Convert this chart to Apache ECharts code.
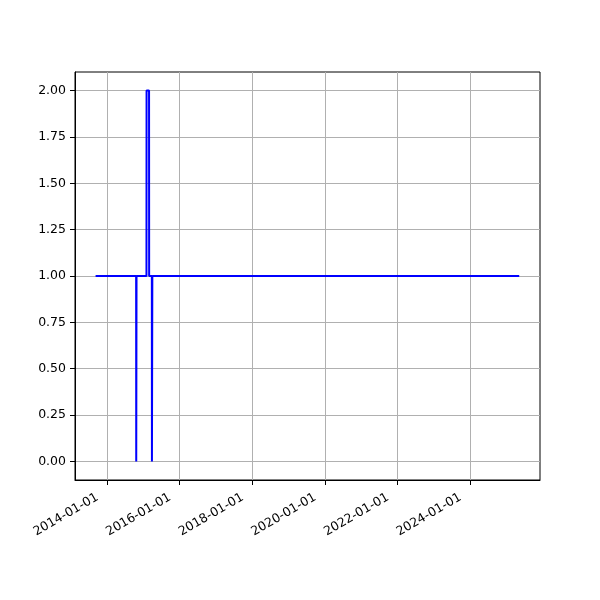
<!DOCTYPE html>
<html>
<head>
<meta charset="utf-8">
<script src="https://cdn.jsdelivr.net/npm/echarts@6/dist/echarts.min.js"></script>
<style>html,body{margin:0;padding:0;background:#fff;}#c{width:600px;height:600px;}</style>
</head>
<body>
<div id="c"></div>
<script>
// Change-point dates and values
const dates = ['2013-09-08','2014-10-21','2014-10-22','2014-10-24','2014-10-25','2015-02-02','2015-02-03','2015-02-28','2015-03-01','2015-03-28','2015-03-29','2015-04-01','2015-04-02','2025-05-10'];
const values = [1,1,0,0,1,1,2,2,1,1,0,0,1,1];
const xTickLabels = ['2014-01-01','2016-01-01','2018-01-01','2020-01-01','2022-01-01','2024-01-01'];
const yTicks = [0,0.25,0.5,0.75,1.0,1.25,1.5,1.75,2.0];

const ts = s => Date.parse(s + 'T00:00:00Z');
const data = dates.map((d,i) => [ts(d), values[i]]);
const xTicks = xTickLabels.map(ts);
const pad = n => (n<10?'0':'')+n;
const fmt = v => { const d = new Date(v); return d.getUTCFullYear()+'-'+pad(d.getUTCMonth()+1)+'-'+pad(d.getUTCDate()); };

const chart = echarts.init(document.getElementById('c'), null, {renderer:'canvas'});
const font = 'DejaVu Sans';
chart.setOption({
  animation:false,
  backgroundColor:'#fff',
  grid:{left:75,right:60,top:72,bottom:120,show:true,borderColor:'#000',borderWidth:1,backgroundColor:'transparent'},
  xAxis:{
    type:'value',
    min: ts('2013-02-13'), max: ts('2025-12-05'),
    axisLine:{show:true,onZero:false,lineStyle:{color:'#000',width:1}},
    axisTick:{show:true,length:5,customValues:xTicks,lineStyle:{color:'#000',width:1}},
    axisLabel:{show:true,customValues:xTicks,rotate:30,margin:11,padding:[0,11,0,0],color:'#000',fontFamily:font,fontSize:12.5,formatter:v=>fmt(v)},
    splitLine:{show:true,lineStyle:{color:'#b0b0b0',width:1}}
  },
  yAxis:{
    type:'value',
    min:-0.1, max:2.1,
    axisLine:{show:true,onZero:false,lineStyle:{color:'#000',width:1}},
    axisTick:{show:true,length:5,customValues:yTicks,lineStyle:{color:'#000',width:1}},
    axisLabel:{show:true,customValues:yTicks,margin:9,color:'#000',fontFamily:font,fontSize:12.5,formatter:v=>v.toFixed(2)},
    splitLine:{show:true,lineStyle:{color:'#b0b0b0',width:1}}
  },
  series:[{
    type:'line',
    data:data,
    showSymbol:false,
    symbol:'none',
    lineStyle:{color:'#0000ff',width:2},
    z:5
  }]
});
</script>
</body>
</html>
